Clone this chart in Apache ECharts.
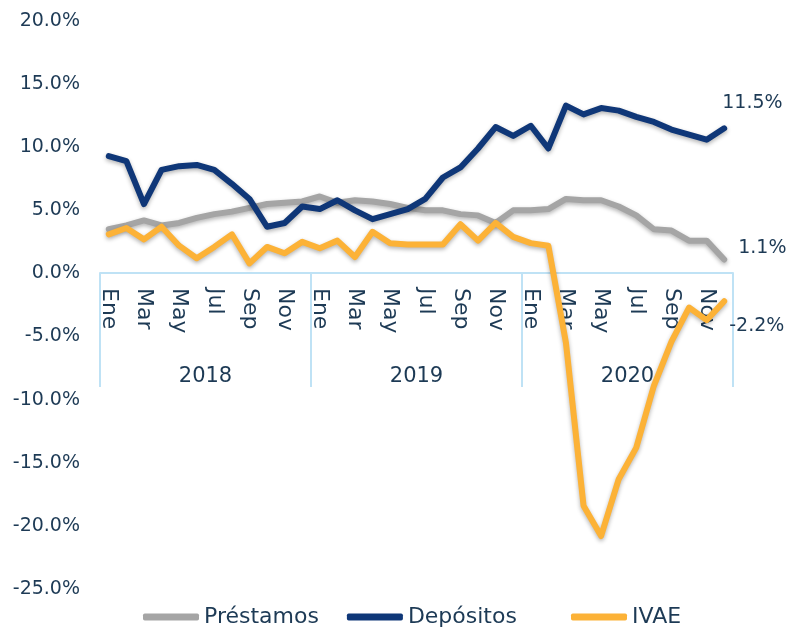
<!DOCTYPE html>
<html>
<head>
<meta charset="utf-8">
<script src="https://cdn.jsdelivr.net/npm/echarts@6/dist/echarts.min.js"></script>
<style>
  html, body { margin: 0; padding: 0; background: #fff; }
  #chart { width: 789px; height: 635px; }
</style>
</head>
<body>
<div id="chart"></div>
<script>
// months for each year
var months = ['Ene', 'Feb', 'Mar', 'Abr', 'May', 'Jun', 'Jul', 'Ago', 'Sep', 'Oct', 'Nov', 'Dic'];
var years = ['2018', '2019', '2020'];
var categories = [].concat(months, months, months);

// variación interanual (%)
var prestamos = [
  3.5, 3.8, 4.2, 3.8, 4.0, 4.4, 4.7, 4.9, 5.2, 5.5, 5.6, 5.7,
  6.1, 5.6, 5.8, 5.7, 5.5, 5.2, 5.0, 5.0, 4.7, 4.6, 4.0, 5.0,
  5.0, 5.1, 5.9, 5.8, 5.8, 5.3, 4.6, 3.5, 3.4, 2.6, 2.6, 1.1
];
var depositos = [
  9.3, 8.9, 5.5, 8.2, 8.5, 8.6, 8.2, 7.1, 5.9, 3.7, 4.0, 5.3,
  5.1, 5.8, 5.0, 4.3, 4.7, 5.1, 5.9, 7.6, 8.4, 9.9, 11.6, 10.9,
  11.7, 9.9, 13.3, 12.6, 13.1, 12.9, 12.4, 12.0, 11.4, 11.0, 10.6, 11.5
];
var ivae = [
  3.1, 3.6, 2.7, 3.7, 2.2, 1.2, 2.1, 3.1, 0.8, 2.1, 1.6, 2.5,
  2.0, 2.6, 1.3, 3.3, 2.4, 2.3, 2.3, 2.3, 3.9, 2.6, 4.0, 2.9,
  2.4, 2.2, -5.5, -18.4, -20.8, -16.3, -13.8, -8.9, -5.4, -2.7, -3.7, -2.2
];

var textColor = '#1d3a55';
var boxColor = '#bfe2f5';
var font = 'DejaVu Sans';

function pct(v) {
  return v.toFixed(1) + '%';
}

function makeSeries(name, data, color, labelOffset) {
  return {
    name: name,
    type: 'line',
    data: data,
    showSymbol: false,
    symbol: 'none',
    z: 3,
    lineStyle: {
      color: color,
      width: 6,
      cap: 'round',
      join: 'round',
      shadowColor: 'rgba(0,0,0,0.3)',
      shadowBlur: 4,
      shadowOffsetY: 2
    },
    itemStyle: { color: color },
    endLabel: {
      show: true,
      formatter: function (p) { return pct(p.value); },
      color: textColor,
      fontFamily: font,
      fontSize: 19,
      offset: labelOffset
    }
  };
}

function makeLegend(names, left) {
  return {
    bottom: 2,
    left: left,
    icon: 'roundRect',
    itemWidth: 56,
    itemHeight: 7,
    itemGap: 28,
    textStyle: { color: textColor, fontSize: 22, fontFamily: font },
    data: names
  };
}

var chart = echarts.init(document.getElementById('chart'));

chart.setOption({
  animation: false,
  textStyle: { fontFamily: font },
  legend: [
    makeLegend(['Préstamos', 'Depósitos'], 138),
    makeLegend(['IVAE'], 566)
  ],
  grid: [
    { left: 100, right: 56, top: 21, bottom: 46, outerBoundsMode: 'none' },
    // caja de meses / años bajo el eje cero
    { left: 100, right: 56, top: 273, height: 114, outerBoundsMode: 'none' }
  ],
  xAxis: [
    {
      type: 'category',
      gridIndex: 0,
      data: categories,
      axisLine: { show: false },
      axisTick: { show: false },
      axisLabel: { show: false }
    },
    {
      type: 'category',
      gridIndex: 1,
      data: categories,
      position: 'top',
      axisLine: { show: true, onZero: false, lineStyle: { color: boxColor, width: 2 } },
      axisTick: { show: false },
      axisLabel: {
        inside: true,
        interval: 1,
        rotate: 90,
        margin: 15,
        color: textColor,
        fontSize: 22,
        fontFamily: font
      }
    },
    {
      type: 'category',
      gridIndex: 1,
      data: years,
      position: 'bottom',
      axisLine: { show: false, onZero: false },
      axisTick: { show: true, inside: true, length: 114, lineStyle: { color: boxColor, width: 2 } },
      axisLabel: {
        inside: true,
        margin: 0,
        color: textColor,
        fontSize: 21,
        fontFamily: font
      }
    }
  ],
  yAxis: [
    {
      type: 'value',
      gridIndex: 0,
      min: -25,
      max: 20,
      interval: 5,
      axisLine: { show: false },
      axisTick: { show: false },
      splitLine: { show: false },
      axisLabel: {
        margin: 20,
        color: textColor,
        fontSize: 19,
        fontFamily: font,
        formatter: pct
      }
    },
    {
      type: 'value',
      gridIndex: 1,
      show: false,
      axisLine: { show: false },
      splitLine: { show: false }
    }
  ],
  series: [
    makeSeries('Préstamos', prestamos, '#a5a5a5', [6, -11]),
    makeSeries('Depósitos', depositos, '#0f3778', [-10, -25]),
    makeSeries('IVAE', ivae, '#fcb237', [-3, 25])
  ]
});
</script>
</body>
</html>
